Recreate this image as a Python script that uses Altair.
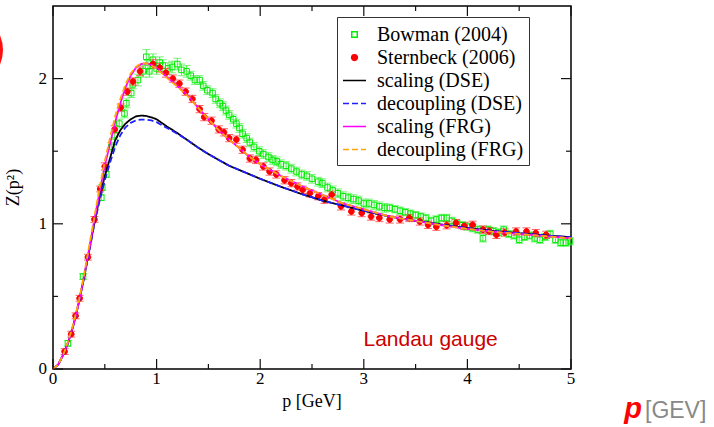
import altair as alt
import pandas as pd

# ---------------- data ----------------
SERIES = ["Bowman (2004)", "Sternbeck (2006)", "scaling (DSE)",
          "decoupling (DSE)", "scaling (FRG)", "decoupling (FRG)"]

BOW_P = [0.144, 0.29, 0.466, 0.475, 0.514, 0.563, 0.595, 0.64, 0.69, 0.708,
         0.755, 0.77, 0.82, 0.868, 0.90, 0.916, 0.93, 0.965, 1.0, 1.03,
         1.06, 1.11, 1.15, 1.2, 1.24, 1.29, 1.33, 1.37, 1.415, 1.45,
         1.49, 1.54, 1.57, 1.61, 1.64, 1.67, 1.70, 1.74, 1.77, 1.80,
         1.83, 1.87, 1.90, 1.94, 1.99, 2.03, 2.08, 2.12, 2.16, 2.20,
         2.25, 2.30, 2.35, 2.40, 2.45, 2.50, 2.56, 2.60, 2.65, 2.70,
         2.75, 2.80, 2.85, 2.90, 2.95, 3.00, 3.05, 3.10, 3.15, 3.20,
         3.25, 3.30, 3.35, 3.40, 3.45, 3.50, 3.55, 3.60, 3.65, 3.70,
         3.75, 3.80, 3.85, 3.90, 3.95, 4.00, 4.05, 4.10, 4.15, 4.20,
         4.25, 4.30, 4.35, 4.40, 4.45, 4.50, 4.55, 4.60, 4.65, 4.70,
         4.75, 4.80, 4.85, 4.90, 4.95, 4.99]
BOW_Z = [0.177, 0.637, 1.18, 1.25, 1.34, 1.53, 1.61, 1.69, 1.76, 1.83,
         1.90, 1.96, 1.99, 2.05, 2.15, 2.085, 2.05, 2.13, 2.07, 2.11,
         2.09, 2.07, 2.08, 2.10, 2.06, 2.05, 2.02, 1.99, 1.99, 1.95,
         1.92, 1.90, 1.86, 1.83, 1.81, 1.78, 1.75, 1.72, 1.69, 1.66,
         1.62, 1.59, 1.56, 1.53, 1.50, 1.48, 1.46, 1.44, 1.43, 1.41,
         1.40, 1.38, 1.36, 1.34, 1.33, 1.31, 1.29, 1.28, 1.25, 1.23,
         1.21, 1.19, 1.18, 1.17, 1.16, 1.14, 1.14, 1.13, 1.12, 1.11,
         1.11, 1.10, 1.09, 1.08, 1.07, 1.06, 1.05, 1.04, 1.02, 1.03,
         1.04, 1.04, 1.02, 1.00, 0.99, 0.98, 0.97, 0.96, 0.90, 0.96,
         0.95, 0.94, 0.96, 0.93, 0.92, 0.89, 0.91, 0.92, 0.90, 0.89,
         0.91, 0.93, 0.89, 0.87, 0.87, 0.88]
BOW_E = [0.02, 0.02, 0.02, 0.02, 0.02, 0.03, 0.03, 0.03, 0.03, 0.03,
         0.03, 0.03, 0.04, 0.04, 0.05, 0.04, 0.04, 0.04, 0.04, 0.04,
         0.04, 0.04, 0.04, 0.04, 0.04, 0.04, 0.03, 0.03, 0.03, 0.03,
         0.03, 0.03, 0.03, 0.03, 0.03, 0.03, 0.03, 0.03, 0.03, 0.03,
         0.03, 0.03, 0.03, 0.03, 0.03, 0.03, 0.03, 0.03, 0.03, 0.03,
         0.03, 0.03, 0.03, 0.03, 0.03, 0.03, 0.03, 0.03, 0.03, 0.03,
         0.03, 0.03, 0.03, 0.03, 0.03, 0.03, 0.03, 0.03, 0.03, 0.03,
         0.025, 0.025, 0.025, 0.025, 0.025, 0.025, 0.025, 0.025, 0.025, 0.025,
         0.025, 0.025, 0.025, 0.025, 0.025, 0.025, 0.025, 0.025, 0.025, 0.025,
         0.025, 0.025, 0.025, 0.025, 0.025, 0.025, 0.025, 0.025, 0.025, 0.025,
         0.025, 0.025, 0.025, 0.025, 0.025, 0.025]

STB_P = [0.112, 0.176, 0.218, 0.257, 0.337, 0.40, 0.456, 0.50, 0.595, 0.653,
         0.717, 0.771, 0.84, 0.965, 1.03, 1.09, 1.157, 1.22, 1.28, 1.345,
         1.415, 1.46, 1.53, 1.60, 1.65, 1.70, 1.77, 1.83, 1.90, 1.96,
         2.03, 2.09, 2.155, 2.235, 2.30, 2.36, 2.41, 2.48, 2.56, 2.62,
         2.69, 2.78, 2.88, 2.98, 3.07, 3.15, 3.25, 3.35, 3.44, 3.54,
         3.62, 3.70, 3.80, 3.89, 3.97, 4.05, 4.15, 4.21, 4.28, 4.36,
         4.47, 4.57, 4.66, 4.76]
STB_Z = [0.12, 0.24, 0.366, 0.487, 0.77, 1.03, 1.24, 1.395, 1.65, 1.80,
         1.91, 1.98, 2.05, 2.10, 2.075, 2.04, 2.00, 1.965, 1.91, 1.86,
         1.79, 1.735, 1.71, 1.65, 1.63, 1.59, 1.58, 1.51, 1.45, 1.44,
         1.395, 1.36, 1.34, 1.30, 1.28, 1.257, 1.234, 1.21, 1.19, 1.166,
         1.20, 1.12, 1.085, 1.074, 1.05, 1.04, 1.03, 1.03, 1.04, 1.016,
         0.993, 0.98, 0.99, 1.005, 0.985, 0.993, 0.96, 0.95, 0.924, 0.94,
         0.947, 0.947, 0.936, 0.924]
STB_E = [0.02, 0.02, 0.02, 0.02, 0.02, 0.02, 0.02, 0.025, 0.025, 0.025,
         0.025, 0.025, 0.03, 0.03, 0.03, 0.03, 0.025, 0.025, 0.025, 0.025,
         0.025, 0.025, 0.025, 0.025, 0.025, 0.025, 0.025, 0.025, 0.025, 0.025,
         0.025, 0.025, 0.025, 0.025, 0.025, 0.025, 0.025, 0.025, 0.025, 0.025,
         0.025, 0.025, 0.025, 0.025, 0.025, 0.025, 0.025, 0.025, 0.025, 0.025,
         0.025, 0.025, 0.025, 0.025, 0.025, 0.025, 0.025, 0.025, 0.025, 0.025,
         0.025, 0.025, 0.025, 0.025]

CURVE_P = [0, 0.05, 0.1, 0.15, 0.2, 0.25, 0.3, 0.35, 0.4, 0.45, 0.5, 0.55,
           0.6, 0.65, 0.7, 0.75, 0.8, 0.85, 0.9, 0.95, 1.0,
           1.1, 1.2, 1.3, 1.4, 1.5, 1.6, 1.7, 1.8, 1.9, 2.0,
           2.2, 2.4, 2.6, 2.8, 3.0,
           3.25, 3.5, 3.75, 4.0, 4.25, 4.5, 4.75, 5.0]
SCAL_DSE = [0, 0.03, 0.10, 0.19, 0.31, 0.46, 0.63, 0.82, 1.01, 1.18, 1.33, 1.45,
            1.575, 1.645, 1.69, 1.72, 1.74, 1.745, 1.743, 1.733, 1.72,
            1.67, 1.625, 1.575, 1.525, 1.48, 1.44, 1.40, 1.37, 1.34, 1.31,
            1.255, 1.205, 1.16, 1.125, 1.09,
            1.05, 1.02, 0.995, 0.97, 0.95, 0.935, 0.92, 0.908]
DEC_DSE = [0, 0.03, 0.10, 0.19, 0.31, 0.46, 0.63, 0.81, 1.00, 1.16, 1.30, 1.42,
           1.53, 1.61, 1.665, 1.695, 1.712, 1.718, 1.717, 1.712, 1.70,
           1.66, 1.62, 1.575, 1.525, 1.48, 1.44, 1.40, 1.37, 1.34, 1.31,
           1.255, 1.205, 1.16, 1.125, 1.09,
           1.05, 1.02, 0.995, 0.97, 0.95, 0.935, 0.92, 0.908]
SCAL_FRG = [0, 0.03, 0.10, 0.19, 0.31, 0.46, 0.64, 0.83, 1.03, 1.22, 1.40, 1.55,
            1.70, 1.83, 1.94, 2.02, 2.075, 2.10, 2.105, 2.095, 2.075,
            2.01, 1.95, 1.885, 1.80, 1.72, 1.645, 1.58, 1.52, 1.46, 1.41,
            1.33, 1.26, 1.20, 1.14, 1.10,
            1.05, 1.02, 0.99, 0.965, 0.945, 0.93, 0.915, 0.90]
DEC_FRG = [0, 0.03, 0.10, 0.20, 0.32, 0.47, 0.65, 0.85, 1.05, 1.25, 1.43, 1.59,
           1.74, 1.86, 1.96, 2.035, 2.08, 2.105, 2.105, 2.09, 2.07,
           2.005, 1.945, 1.88, 1.80, 1.72, 1.645, 1.58, 1.52, 1.46, 1.41,
           1.33, 1.26, 1.20, 1.14, 1.10,
           1.05, 1.02, 0.99, 0.965, 0.945, 0.93, 0.915, 0.90]

X_MAJOR = [0, 1, 2, 3, 4, 5]
X_MINOR = [0.5, 1.5, 2.5, 3.5, 4.5]
Y_MAJOR = [0, 1, 2]
Y_MINOR = [0.5, 1.5]
X_TITLE = "p [GeV]"
Y_TITLE = "Z(p²)"

# ---------------- styles ----------------
W, H = 518, 363
X_DOM, Y_DOM = [0, 5], [0, 2.5]
MAJOR_LEN, MINOR_LEN = 10, 5          # tick lengths in pixels
STROKES = ["#00ee00", "#ff0000", "#000000", "#2020ff", "#ff00ff", "#ffa500"]
FILLS = ["transparent", "#ff0000", "transparent", "transparent", "transparent", "transparent"]
SQUARE = "M-0.24,-0.24L0.24,-0.24L0.24,0.24L-0.24,0.24Z"
CIRCLE = "M-0.25,0A0.25,0.25,0,1,1,0.25,0A0.25,0.25,0,1,1,-0.25,0Z"
SHAPES = [SQUARE, CIRCLE, "stroke", "stroke", "stroke", "stroke"]
DASHES = [[1, 0], [1, 0], [1, 0], [6, 3], [1, 0], [6, 3]]
SERIF = "Liberation Serif"
SANS = "Liberation Sans"

# ---------------- tables ----------------
bow = pd.DataFrame({"p": BOW_P, "Z": BOW_Z, "e": BOW_E})
bow["series"] = SERIES[0]
stb = pd.DataFrame({"p": STB_P, "Z": STB_Z, "e": STB_E})
stb["series"] = SERIES[1]
for d in (bow, stb):
    d["lo"] = d["Z"] - d["e"]
    d["hi"] = d["Z"] + d["e"]
lat = pd.concat([bow, stb], ignore_index=True)

curves = pd.concat([
    pd.DataFrame({"p": CURVE_P, "Z": vals, "series": name})
    for name, vals in zip(SERIES[2:], [SCAL_DSE, DEC_DSE, SCAL_FRG, DEC_FRG])
], ignore_index=True)

XS = alt.Scale(domain=X_DOM, nice=False, zero=False)
YS = alt.Scale(domain=Y_DOM, nice=False, zero=False)


def X(field):
    return alt.X(field, scale=XS, axis=None)


def Y(field):
    return alt.Y(field, scale=YS, axis=None)


LEG = alt.Legend(orient="none", legendX=284, legendY=11, title=None)
S_STROKE = alt.Scale(domain=SERIES, range=STROKES)
S_FILL = alt.Scale(domain=SERIES, range=FILLS)
S_SHAPE = alt.Scale(domain=SERIES, range=SHAPES)
S_DASH = alt.Scale(domain=SERIES, range=DASHES)


def err_layers(df, color):
    rule = alt.Chart(df).mark_rule(color=color, strokeWidth=1).encode(
        x=X("p:Q"), y=Y("lo:Q"), y2="hi:Q")
    caps = alt.Chart(df).transform_fold(["lo", "hi"], as_=["k", "v"]).mark_tick(
        color=color, orient="horizontal", size=8, thickness=1
    ).encode(x=X("p:Q"), y=Y("v:Q"))
    return [rule, caps]


pts = alt.Chart(lat).mark_point(size=529, strokeWidth=1, opacity=1).encode(
    x=X("p:Q"), y=Y("Z:Q"),
    stroke=alt.Stroke("series:N", scale=S_STROKE, legend=LEG),
    fill=alt.Fill("series:N", scale=S_FILL, legend=LEG),
    shape=alt.Shape("series:N", scale=S_SHAPE, legend=LEG),
)

lines = alt.Chart(curves).mark_line(strokeWidth=1.8).encode(
    x=X("p:Q"), y=Y("Z:Q"),
    stroke=alt.Stroke("series:N", scale=S_STROKE, legend=LEG),
    strokeDash=alt.StrokeDash("series:N", scale=S_DASH, legend=LEG),
)

# inward-pointing ticks on all four sides (pixel lengths converted to data units)
ux = (X_DOM[1] - X_DOM[0]) / W
uy = (Y_DOM[1] - Y_DOM[0]) / H
xt_rows, yt_rows = [], []
for vals, ln in ((X_MAJOR, MAJOR_LEN), (X_MINOR, MINOR_LEN)):
    for v in vals:
        xt_rows.append({"v": v, "a": Y_DOM[0], "b": Y_DOM[0] + ln * uy})
        xt_rows.append({"v": v, "a": Y_DOM[1], "b": Y_DOM[1] - ln * uy})
for vals, ln in ((Y_MAJOR, MAJOR_LEN), (Y_MINOR, MINOR_LEN)):
    for v in vals:
        yt_rows.append({"v": v, "a": X_DOM[0], "b": X_DOM[0] + ln * ux})
        yt_rows.append({"v": v, "a": X_DOM[1], "b": X_DOM[1] - ln * ux})

xticks = alt.Chart(pd.DataFrame(xt_rows)).mark_rule(color="#111", strokeWidth=1.2).encode(
    x=X("v:Q"), y=Y("a:Q"), y2="b:Q")
yticks = alt.Chart(pd.DataFrame(yt_rows)).mark_rule(color="#111", strokeWidth=1.2).encode(
    y=Y("v:Q"), x=X("a:Q"), x2="b:Q")

# tick labels and axis titles as text placed through the scales
xlab = alt.Chart(pd.DataFrame({"v": X_MAJOR, "t": [str(v) for v in X_MAJOR]})).mark_text(
    font=SERIF, fontSize=17, color="#000", baseline="middle", align="center"
).encode(x=X("v:Q"), y=alt.value(H + 10), text="t:N")
ylab = alt.Chart(pd.DataFrame({"v": Y_MAJOR, "t": [str(v) for v in Y_MAJOR]})).mark_text(
    font=SERIF, fontSize=17, color="#000", baseline="middle", align="right"
).encode(y=Y("v:Q"), x=alt.value(-6), text="t:N")
xtitle = alt.Chart(pd.DataFrame({"t": [X_TITLE]})).mark_text(
    font=SERIF, fontSize=18, color="#000", baseline="middle", align="center"
).encode(x=alt.value(W / 2), y=alt.value(H + 33), text="t:N")
ytitle = alt.Chart(pd.DataFrame({"t": [Y_TITLE]})).mark_text(
    font=SERIF, fontSize=18, color="#000", baseline="middle", align="center", angle=270
).encode(x=alt.value(-39), y=alt.value(H / 2), text="t:N")

landau = alt.Chart(pd.DataFrame({"p": [3.645], "Z": [0.2], "t": ["Landau gauge"]})).mark_text(
    font=SANS, fontSize=21, color="#cc0000"
).encode(x=X("p:Q"), y=Y("Z:Q"), text="t:N")

p_txt = alt.Chart(pd.DataFrame({"t": ["p"]})).mark_text(
    font=SANS, fontSize=29, fontWeight="bold", fontStyle="italic", color="#ff0000",
    align="right", baseline="alphabetic"
).encode(x=alt.value(589), y=alt.value(412), text="t:N")

gev_txt = alt.Chart(pd.DataFrame({"t": ["[GEV]"]})).mark_text(
    font=SANS, fontSize=23, color="#888888", align="left", baseline="alphabetic"
).encode(x=alt.value(592), y=alt.value(412), text="t:N")

red_blob = alt.Chart(pd.DataFrame({"t": ["o"]})).mark_point(
    shape="circle", filled=True, size=5776, color="#ff1010", opacity=1, strokeWidth=0
).encode(x=alt.value(-88), y=alt.value(44))

layers = err_layers(bow, "#44ee44") + err_layers(stb, "#ff2020") + [
    pts, lines, xticks, yticks, xlab, ylab, xtitle, ytitle,
    landau, p_txt, gev_txt, red_blob]

chart = alt.layer(*layers).properties(
    width=W, height=H,
    padding={"left": 53, "top": 6, "right": 143, "bottom": 58},
    autosize=alt.AutoSizeParams(type="none"),
).configure_view(stroke="#000", strokeWidth=1.5).configure_legend(
    fillColor="#ffffff", strokeColor="#333333", padding=5, cornerRadius=0,
    labelFont=SERIF, labelFontSize=20, labelColor="#000", labelOffset=10,
    symbolSize=529, symbolStrokeWidth=1.5, rowPadding=0,
)

chart.save("out.html", embed_options={"renderer": "svg", "actions": False})
